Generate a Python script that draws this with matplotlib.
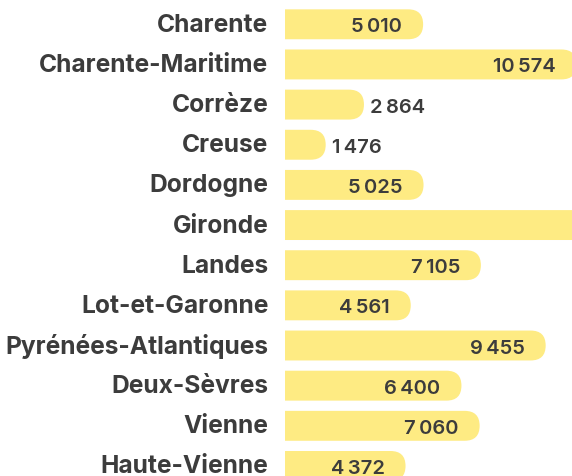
import matplotlib.pyplot as plt
from matplotlib.patches import FancyBboxPatch
from matplotlib.transforms import ScaledTranslation

departements = ["Charente", "Charente-Maritime", "Corrèze", "Creuse", "Dordogne", "Gironde",
                "Landes", "Lot-et-Garonne", "Pyrénées-Atlantiques", "Deux-Sèvres", "Vienne",
                "Haute-Vienne"]
valeurs = [5010, 10574, 2864, 1476, 5025, 15900, 7105, 4561, 9455, 6400, 7060, 4372]

bar_color = "#FEEB83"
text_color = "#3c3c3c"
font = ["Inter", "DejaVu Sans"]

fig = plt.figure(figsize=(5.72, 4.77), dpi=100)
ax = fig.add_axes([285 / 572, 0, 287 / 572, 1])

xmax = 10410
ax.set_xlim(0, xmax)
ax.set_ylim(11.25, -0.63)

bar_h = 0.745
# px per data unit, to get circular end caps
sx = 287 / xmax
sy = 477 / (11.25 + 0.63)
radius_px = 15
r = radius_px / sx

for i, v in enumerate(valeurs):
    patch = FancyBboxPatch((-2 * r, i - bar_h / 2), v + 2 * r, bar_h,
                           boxstyle=f"round,pad=0,rounding_size={r}",
                           mutation_aspect=sx / sy,
                           facecolor=bar_color, edgecolor="none", clip_on=True)
    ax.add_patch(patch)
    label = f"{v:,}".replace(",", "\u202f")
    if v > 3500:
        x_txt = v - 21 / sx
        if x_txt > xmax:
            continue  # label falls outside the visible area
        ax.text(x_txt, i, label, ha="right", va="center_baseline", fontsize=14.5,
                fontweight="semibold", family=font, color=text_color)
    else:
        ax.text(v + 6 / sx, i, label, ha="left", va="center_baseline", fontsize=14.5,
                fontweight="semibold", family=font, color=text_color)

ax.set_yticks(range(len(departements)))
ax.set_yticklabels(departements, fontsize=17.7, fontweight="bold", family=font, color=text_color)
ax.tick_params(axis="y", length=0, pad=12)
# labels sit slightly above the bar centres
shift = ScaledTranslation(0, 2.5 / 100, fig.dpi_scale_trans)
for lbl in ax.get_yticklabels():
    lbl.set_transform(lbl.get_transform() + shift)
ax.set_xticks([])
for s in ax.spines.values():
    s.set_visible(False)

plt.savefig("out.png", dpi=100)
